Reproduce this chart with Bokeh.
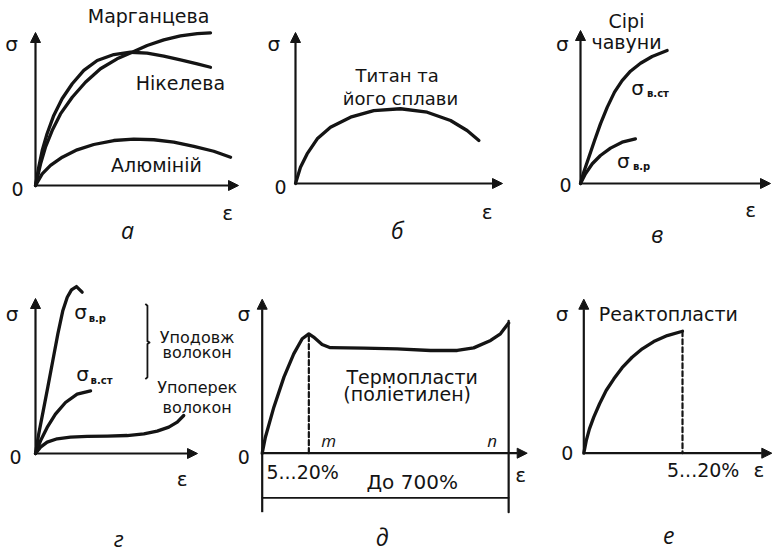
from bokeh.plotting import figure
from bokeh.models import Range1d, Arrow, NormalHead
from bokeh.core.properties import value
from bokeh.embed import file_html
from bokeh.resources import INLINE

W, H = 772, 555
INK = "#141414"
FONT = "DejaVu Sans"
ITALIC_FONT = "Open Sans"

# Schematic stress–strain curves. Every diagram uses relative units:
# strain ε and stress σ both run 0..100 along the drawn axis arrows.

# а — non-ferrous alloys
A_EPS_MN = [0, 2.5, 4.9, 8.2, 12.3, 18.1, 24.6, 32.0, 40.2, 47.6, 55.0, 63.2, 71.4, 79.7, 86.2]
A_SIG_MN = [0, 14.2, 25.0, 35.9, 46.8, 57.7, 67.5, 76.3, 82.8, 87.1, 91.5, 95.2, 97.8, 99.3, 99.8]
A_EPS_NI = [0, 1.6, 3.3, 5.7, 9.0, 13.1, 18.1, 23.8, 30.4, 38.6, 46.8, 55.0, 63.2, 71.4, 79.7, 86.2]
A_SIG_NI = [0, 12.0, 22.9, 33.8, 45.8, 56.7, 66.5, 75.2, 81.7, 85.6, 87.1, 86.5, 84.5, 82.1, 79.5, 77.3]
A_EPS_AL = [0, 3.3, 7.4, 13.2, 20.5, 28.7, 38.6, 48.4, 58.3, 68.1, 78.0, 87.8, 96.1]
A_SIG_AL = [0, 7.6, 13.1, 18.5, 23.3, 26.8, 29.4, 30.3, 29.9, 28.3, 25.6, 22.4, 18.5]
A_NAMES = ["Марганцева", "Нікелева", "Алюміній"]

# б — titanium and its alloys
B_EPS = [0, 2.4, 5.6, 10.5, 16.9, 26.6, 37.8, 50.7, 63.6, 74.9, 82.9, 88.6]
B_SIG = [0, 10.8, 19.6, 29.6, 37.3, 43.9, 48.3, 49.5, 47.2, 41.7, 35.1, 28.5]
B_NAMES = ["Титан та", "його сплави"]

# в — grey cast iron, compression and tension
V_EPS_COMP = [0, 1.7, 4.4, 7.4, 10.5, 14.1, 17.9, 21.9, 26.3, 31.6, 37.7, 45.6]
V_SIG_COMP = [0, 7.4, 17.2, 28.1, 39.0, 49.9, 59.7, 67.3, 73.4, 78.6, 83.0, 86.9]
V_EPS_TENS = [0, 2.6, 6.2, 10.5, 15.8, 21.9, 28.9]
V_SIG_TENS = [0, 6.3, 12.9, 18.3, 23.1, 27.0, 29.2]
V_NAMES = ["Сірі", "чавуни"]

# г — wood along and across the fibres
G_EPS_TENS = [0, 2.0, 4.8, 7.6, 10.7, 13.8, 16.9, 19.6, 22.2, 25.3, 28.8]
G_SIG_TENS = [0, 12.7, 27.7, 42.8, 60.0, 77.2, 92.3, 100.8, 105.6, 107.7, 104.1]
G_EPS_COMP = [0, 3.1, 7.2, 12.3, 18.5, 25.7, 34.0]
G_SIG_COMP = [0, 8.2, 16.8, 25.4, 32.9, 38.3, 40.4]
G_EPS_CROSS = [0, 3.1, 7.2, 13.4, 21.6, 31.9, 44.3, 56.6, 66.9, 75.1, 82.3, 87.5, 91.5]
G_SIG_CROSS = [0, 4.1, 7.3, 9.5, 10.5, 11.0, 11.2, 11.6, 12.7, 14.4, 17.0, 20.2, 24.5]
G_NAMES = ["Уподовж", "волокон", "Упоперек", "волокон"]

# д — thermoplastics (polyethylene)
D_EPS = [0, 1.2, 4.4, 8.2, 11.9, 15.1, 17.6, 19.4, 22.6, 25.7, 38.3, 50.9, 63.5, 73.6, 79.8, 86.2, 89.9, 93.0]
D_SIG = [0, 10.4, 29.9, 49.4, 64.5, 74.3, 77.5, 75.4, 70.6, 68.5, 68.2, 67.8, 66.7, 66.7, 68.4, 73.2, 77.5, 84.5]
D_YIELD_EPS = 17.6
D_BREAK_EPS = 93.0
D_NAMES = ["Термопласти", "(поліетилен)"]
D_STRAIN = ["5...20%", "До 700%"]

# е — thermosets
E_EPS = [0, 1.3, 3.0, 5.3, 8.4, 11.9, 16.0, 20.4, 25.7, 31.1, 37.2, 44.4, 52.5]
E_SIG = [0, 8.2, 15.8, 23.4, 32.1, 40.7, 48.3, 55.5, 62.3, 67.8, 72.5, 76.4, 79.2]
E_NAMES = ["Реактопласти"]
E_STRAIN = ["5...20%"]

PANEL_LETTERS = ["а", "б", "в", "г", "д", "е"]

# where each diagram sits on the page: origin (px) and axis lengths (px)
FRAMES = {
    "a": (35, 185, 203, 153),
    "b": (295, 183, 207, 151),
    "v": (580, 183, 190, 153),
    "g": (35, 453, 162, 155),
    "d": (261.7, 452.7, 265, 154),
    "e": (583.3, 452.7, 188, 154),
}

p = figure(width=W, height=H, output_backend="svg", toolbar_location=None,
           x_range=Range1d(0, W), y_range=Range1d(H, 0),
           x_axis_location=None, y_axis_location=None,
           min_border=0, outline_line_color=None, background_fill_color="white",
           border_fill_color="white")
p.grid.visible = False

xr, yr = {}, {}
for k, (ox, oy, lx, ly) in FRAMES.items():
    xr[k] = Range1d(-ox / lx * 100, (W - ox) / lx * 100)
    yr[k] = Range1d(-(H - oy) / ly * 100, oy / ly * 100)
p.extra_x_ranges = xr
p.extra_y_ranges = yr


def curve(k, xs, ys, width=3.3, dash="solid"):
    p.line(xs, ys, x_range_name=k, y_range_name=k, line_width=width, line_color=INK,
           line_join="round", line_cap="round", line_dash=dash)


def axes(k, y_from=0):
    head = dict(size=10, fill_color=INK, line_color=INK, line_width=1)
    p.add_layout(Arrow(end=NormalHead(**head), x_start=0, y_start=0, x_end=100, y_end=0,
                       line_width=2.2, line_color=INK, x_range_name=k, y_range_name=k))
    p.add_layout(Arrow(end=NormalHead(**head), x_start=0, y_start=y_from, x_end=0, y_end=100,
                       line_width=2.2, line_color=INK, x_range_name=k, y_range_name=k))


def label(k, x, y, txt, size=18, align="center", style="normal", font=FONT, baseline="middle"):
    p.text([x], [y], text=[txt], x_range_name=k, y_range_name=k,
           text_font=value(font), text_font_size=f"{size}px", text_font_style=style,
           text_align=align, text_baseline=baseline, text_color=INK)


def axis_marks(k, sx, sy, zx, zy, ex, ey):
    label(k, sx, sy, "σ", 20)
    label(k, zx, zy, "0", 19)
    label(k, ex, ey, "ε", 20)


def sigma_sub(k, x, y, sub):
    label(k, x, y, "σ", 20)
    label(k, x + 5.0, y - 4.0, sub, 10, align="left", style="bold")


def letter(k, x, y, txt, size=23):
    label(k, x, y, txt, size, style="italic", font=ITALIC_FONT)


# а
axes("a")
curve("a", A_EPS_MN, A_SIG_MN)
curve("a", A_EPS_NI, A_SIG_NI)
curve("a", A_EPS_AL, A_SIG_AL)
label("a", 55.7, 111.1, A_NAMES[0], 19)
label("a", 71.4, 67.3, A_NAMES[1], 19)
label("a", 59.6, 13.1, A_NAMES[2], 19)
axis_marks("a", -11.8, 92.8, -8.9, -2, 94.6, -18.3)
letter("a", 45.3, -29.4, PANEL_LETTERS[0])

# б
axes("b")
curve("b", B_EPS, B_SIG)
label("b", 49.1, 71.5, B_NAMES[0], 18)
label("b", 50.7, 56.1, B_NAMES[1], 18)
axis_marks("b", -10.5, 92.5, -7.2, -2.4, 92.6, -19.0)
letter("b", 49.1, -31.1, PANEL_LETTERS[1])

# в
axes("v")
curve("v", V_EPS_COMP, V_SIG_COMP)
curve("v", V_EPS_TENS, V_SIG_TENS)
label("v", 24.2, 106.5, V_NAMES[0], 19)
label("v", 24.2, 92.4, V_NAMES[1], 19)
sigma_sub("v", 30.0, 62.7, "в.ст")
sigma_sub("v", 22.6, 15.0, "в.р")
axis_marks("v", -9.6, 91.3, -7.9, -1.3, 89.5, -17.6)
letter("v", 40.4, -32.9, PANEL_LETTERS[2])

# г
axes("g")
curve("g", G_EPS_TENS, G_SIG_TENS)
curve("g", G_EPS_COMP, G_SIG_COMP)
curve("g", G_EPS_CROSS, G_SIG_CROSS)
sigma_sub("g", 27.8, 91.0, "в.р")
sigma_sub("g", 29.0, 51.0, "в.ст")
# brace grouping the two "along the fibres" curves
p.line([67.8, 69.1, 69.1, 70.4, 69.1, 69.1, 67.8], [96.5, 95.3, 72.5, 71.6, 70.7, 49.2, 48.0],
       x_range_name="g", y_range_name="g", line_width=1.8, line_color=INK, line_join="round")
label("g", 99.8, 75.0, G_NAMES[0], 16)
label("g", 99.8, 65.4, G_NAMES[1], 16)
label("g", 99.8, 42.4, G_NAMES[2], 16)
label("g", 99.8, 29.9, G_NAMES[3], 16)
axis_marks("g", -14.4, 90.1, -12.3, -2.4, 90.6, -16.3)
letter("g", 51.4, -54.2, PANEL_LETTERS[3], 22)

# д
axes("d", y_from=-38.3)
curve("d", D_EPS, D_SIG)
curve("d", [D_YIELD_EPS, D_YIELD_EPS], [0, max(D_SIG[:8])], width=2.2, dash="5 3")
curve("d", [D_BREAK_EPS, D_BREAK_EPS], [D_SIG[-1] + 1.5, -38.3], width=2.2)
curve("d", [0, D_BREAK_EPS], [-29.0, -29.0], width=1.6)
label("d", 25.1, 8.2, "m", 17, style="italic", font=ITALIC_FONT)
label("d", 86.8, 8.2, "n", 17, style="italic", font=ITALIC_FONT)
label("d", 1.6, -12.3, D_STRAIN[0], 19, align="left")
label("d", 56.6, -18.8, D_STRAIN[1], 20)
label("d", 56.6, 49.4, D_NAMES[0], 19)
label("d", 54.7, 38.6, D_NAMES[1], 19)
axis_marks("d", -6.9, 90.5, -6.9, -2.6, 97.5, -14.4)
letter("d", 45.3, -54.5, PANEL_LETTERS[4])

# е
axes("e")
curve("e", E_EPS, E_SIG)
curve("e", [E_EPS[-1], E_EPS[-1]], [E_SIG[-1], 0], width=2.2, dash="5 3")
label("e", 8.0, 90.5, E_NAMES[0], 19, align="left")
label("e", 63.5, -11.2, E_STRAIN[0], 19)
axis_marks("e", -11.5, 90.5, -8.8, 0, 93.1, -11.2)
letter("e", 45.2, -53.4, PANEL_LETTERS[5])

open("out.html", "w").write(file_html(p, INLINE))
